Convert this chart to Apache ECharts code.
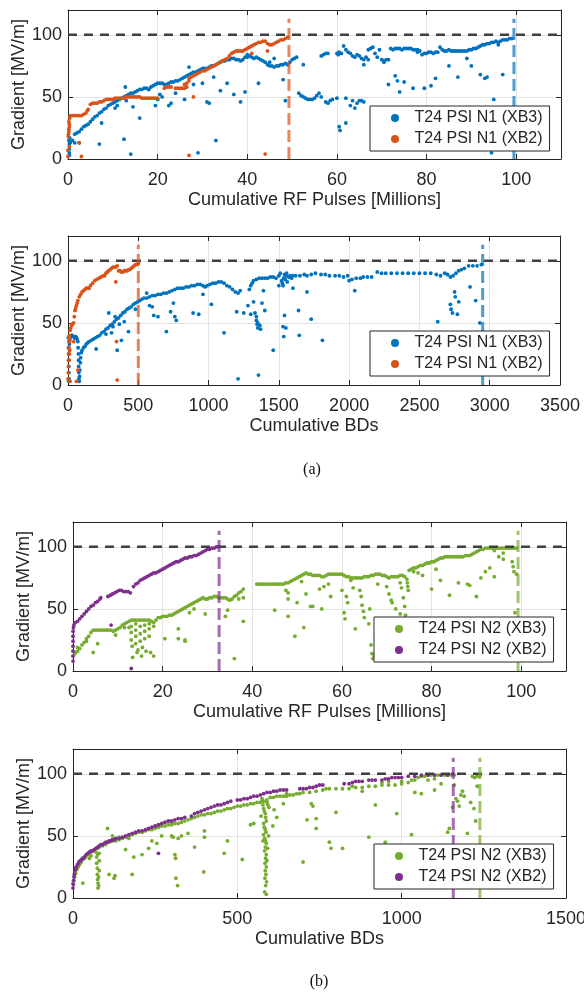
<!DOCTYPE html>
<html>
<head>
<meta charset="utf-8">
<script src="https://cdn.jsdelivr.net/npm/echarts@6/dist/echarts.min.js"></script>
<style>
  body { margin: 0; background: #fff; }
  #chart { width: 584px; height: 993px; }
</style>
</head>
<body>
<div id="chart"></div>
<script>
// ---- data ----
const targetGradient = 100;

// (a) top: gradient vs cumulative RF pulses [millions], structure N1
const n1Xb3Pulses = [
  [0.3,3],[0.3,5],[0.3,8],[0.3,12],[0.2,15],[0.4,17],[1,15],[1.5,20],[2,21],[2.5,22],[3,24],[3.5,26],[4,27],[4.5,28],[5,30],[5.5,32],
  [6,34],[6.5,35],[7,37],[7.5,38],[8,40],[8.5,41],[9,43],[9.5,44],[10,45],[10.5,46],[11,47],[11.5,48],[12,49],[12.5,50],
  [13,51],[13.5,52],[14,53],[14.5,53],[15,54],[15.5,55],[16,56],[16.5,56],[17,57],[17.5,57],[18,56],[18.5,58],[19,59],
  [19.5,60],[20,61],[20.5,61],[21,61],[21.5,60],[22,60],[22.5,61],[23,62],[23.5,62],[24,63],[24.5,63],[25,64],[25.5,65],[26,66],
  [26.5,67],[27,68],[27.5,69],[28,70],[28.5,70],[29,71],[29.5,72],[30,73],[30.5,73],[31,73],[31.5,74],[32,75],[32.5,75],
  [33,76],[33.5,77],[34,78],[34.5,79],[35,79],[35.5,80],[36,80],[36.5,81],[37,81],[37.5,80],[38,80],[38.5,79],[39,80],
  [39.5,82],[40,82],[40.5,83],[41,82],[41.5,81],[42,82],[42.5,81],[43,80],[43.5,79],[44,78],[44.5,76],[45,75],[45.5,75],
  [46,74],[46.5,75],[47,75],[47.5,76],[48,76],[48.5,77],[49,76],[49.5,78],[50,80],[50.5,81],[51,82],
  [51.5,53],[52,51],[52.5,50],[53,49],[53.5,48],[54,48],[54.5,48],[55,49],[55.5,51],[56,53],[56.5,50],
  [56.5,83],[57,84],[57.5,85],[58,85],[57.5,46],[58,45],[58.5,47],[59,48],[60,49],[60.5,26],[60.7,23],[62,29],
  [60,85],[60.3,84],[60.5,86],[61,85],[61.5,91],[62,88],[62.5,86],[63,85],[63.5,83],[64,82],
  [63,43],[63.5,47],[64,41],[64.5,45],[65,47],[65.5,47],[66,46],
  [64.5,84],[65,83],[65.5,81],[66,80],[66.5,82],[67,88],[67.5,89],[68,90],[68.5,85],[69,82],[69.5,88],[70,80],[70.5,79],
  [71,80],[71.5,80],[72,89],[72.5,88],[73,89],[73.5,89],[74,89],[74.5,88],[75,89],[75.5,89],[76,89],[76.5,89],[77,88],
  [77.5,88],[78,88],[78.5,87],[79,84],[79.5,85],[80,85],[80.5,86],[81,86],[81.5,85],[82,86],[82.5,86],[83,90],[83.5,88],
  [84,87],[84.5,87],[85,88],[85.5,87],[86,87],[86.5,87],[87,87],[87.5,87],[88,87],[88.5,87],[89,87],[89.5,88],[90,88],
  [90.5,89],[91,89],[91.5,90],[92,91],[92.5,92],[93,92],[93.5,93],[94,93],[94.5,94],[95,94],[95.5,95],[96,94],[96.5,95],
  [97,96],[97.5,96],[98,96],[98.5,97],[99,97],
  [0.5,13],[1.5,13],[2.5,13],[7,12],[7.5,29],[10.5,41],[11,43],[12.5,16],[12.8,58],[13,47],[14,4],[14.5,42],[16,33],
  [18,56],[19.5,43],[20,48],[20.5,52],[21,50],[22.5,43],[23,45],[24,53],[26,48],[27,74],[28,60],[29,5],[30,61],[31,46],
  [31.5,45],[32.5,66],[33,15],[34,55],[35.5,61],[37,52],[38.5,46],[39.5,54],[40,84],[42.5,61],[45,78],[46,81],[48,64],
  [48.5,47],[52.5,76],[62,49],[66,76],[67,80],[70.5,78],[71.5,60],[73,67],[73.5,63],[74,54],[75,62],[77,57],[78,86],
  [79.5,57],[81,59],[82,65],[85,75],[87,66],[89,81],[90,75],[92,68],[93,65],[93.5,66],[94.5,5],[95,48],[96,92],[97,68]
];
const n1Xb2Pulses = [
  [0,2],[0,7],[0.3,10],[0.1,18],[0.1,20],[0.2,22],[0.2,24],[0.3,26],[0.3,28],[0.2,30],[0.4,33],
  [0.5,35],[1,35],[1.5,35],[2,35],[2.5,35],[3,35],[3.5,36],[4,37],[4.3,39],[4.5,40],
  [5,44],[5.5,45],[6,45],[6.5,45],[7,46],[7.5,46],[8,47],[8.5,48],[9,48],[9.5,48],[10,48],[10.5,49],[11,49],[11.5,49],
  [12,49],[12.5,49],[13,50],[13.5,50],[14,50],[14.5,50],[15,50],[15.5,50],[16,50],[16.5,49],[17,49],[17.5,49],[18,49],
  [18.5,49],[19,49],[19.5,49],[20,49],
  [21.5,57],[22,58],[22.5,58],[23,58],[24,57],[24.5,57],[25,57],[25.5,57],[26,57],[26.5,58],[26,60],[26.5,61],
  [27,63],[27,65],[27.5,66],[28,67],[28.5,68],[29,69],[29.5,70],[30,71],[30.5,71],[31,72],[31.5,73],[32,74],[32.5,75],
  [33,76],[33.5,77],[34,78],[34.5,79],[35,80],[35.5,81],[36,83],[36.5,85],[37,86],[37.5,87],[38,87],[38.5,87],[39,87],
  [39.5,88],[40,89],[40.5,90],[41,91],[41.5,92],[42,93],[42.5,94],[43,94],[43.5,95],[44,95],[44.5,93],[45,92],[45.5,92],
  [46,93],[46.5,94],[47,95],[47.5,96],[48,96],[48.5,97],[49,98],
  [2.5,13],[3,2],[27,3],[28,50],[41,85],[44,4],[44.5,87]
];
const n1EndPulses = [99.5, 49.3];   // XB3, XB2

// (a) bottom: gradient vs cumulative BDs, structure N1
const n1Xb3Bds = [
  [2,38],[3,30],[4,25],[5,20],[6,15],[7,10],[8,5],[5,3],[10,33],[12,36],[15,38],[20,39],[25,40],[30,40],[40,39],[45,38],
  [50,38],[55,39],[60,38],[65,37],[70,35],[72,30],[74,25],[75,20],[76,15],[77,10],[78,5],[80,3],[82,7],[85,12],[88,18],
  [90,22],[95,26],[100,28],[110,30],[120,31],[130,33],[140,34],[150,35],[165,36],[180,37],[195,38],[210,39],[225,40],
  [240,42],[255,43],[270,45],[285,46],[300,48],[315,49],[330,51],[345,53],[360,54],[375,56],[390,58],[405,59],[420,61],
  [435,62],[450,63],[465,65],[480,66],[495,67],[510,68],[525,69],[540,70],[560,70],[580,71],[600,72],[620,72],[640,73],
  [660,73],[680,74],[700,74],[720,75],[740,76],[760,77],[780,78],[800,78],[820,78],[840,79],[860,79],[880,80],[900,80],
  [920,81],[940,81],[960,80],[975,79],[990,80],[1010,81],[1030,82],[1050,82],[1070,83],[1090,83],[1110,82],[1130,80],
  [1150,79],[1170,77],[1190,75],[1210,74],[1225,76],
  [1290,77],[1300,80],[1310,82],[1320,84],[1340,85],[1360,86],[1380,86],[1400,86],[1420,86],[1440,87],[1460,87],
  [1480,86],[1500,88],[1510,90],[1520,84],[1525,82],[1530,80],[1535,86],[1540,89],[1545,85],[1550,88],[1555,90],
  [1560,83],[1570,87],[1580,88],[1590,86],[1600,88],[1620,88],[1650,88],[1680,89],[1700,88],[1730,89],[1760,90],
  [1800,89],[1830,89],[1860,88],[1900,88],[1930,88],[1960,87],[1990,88],[2000,84],[2020,85],[2050,86],[2080,86],
  [2100,87],[2130,87],[2160,87],[2200,91],[2230,90],[2260,90],[2300,90],[2340,90],[2380,90],[2420,90],[2460,90],
  [2500,90],[2540,90],[2580,90],[2620,89],[2650,88],[2680,90],[2700,89],[2720,87],[2740,88],[2760,90],[2780,92],
  [2800,93],[2820,94],[2850,96],[2880,96],[2910,96],[2940,97],
  [200,29],[270,41],[290,58],[310,42],[320,47],[335,55],[350,28],[365,49],[380,36],[400,51],[430,43],[480,61],[560,74],
  [580,64],[600,63],[610,56],[640,55],[700,43],[730,59],[750,66],[770,52],[760,55],[890,58],[930,57],[960,73],[1020,65],
  [1110,42],[1200,59],[1210,5],[1250,58],[1280,64],[1300,57],[1320,67],[1330,58],[1340,55],[1340,52],[1345,49],
  [1350,46],[1350,50],[1355,8],[1365,48],[1370,45],[1380,66],[1390,76],[1400,60],[1460,28],[1500,80],[1530,47],
  [1535,39],[1540,56],[1550,46],[1600,78],[1640,60],[1645,40],[1700,75],[1730,53],[1810,36],[2040,76],[2630,51],
  [2720,65],[2725,61],[2735,58],[2750,75],[2755,71],[2770,57],[2780,67],[2860,79],[2900,68],[2930,50]
];
const n1Xb2Bds = [
  [0,5],[2,10],[3,15],[4,20],[5,25],[6,30],[7,35],[8,38],[8,20],[10,25],[12,28],[5,30],[8,35],[10,38],
  [10,40],[15,44],[20,46],[25,48],[30,49],[40,50],[45,55],[50,60],[55,62],[60,64],[65,66],[70,68],[80,71],[90,73],
  [100,75],[110,76],[120,77],[130,78],[140,78],[150,78],[160,80],[175,82],[190,84],[205,85],[220,86],[235,87],[250,88],
  [260,88],[270,90],[280,91],[290,92],[300,93],[310,94],[320,95],[330,95],[340,95],[350,96],[360,92],[370,92],[380,91],
  [390,91],[400,92],[410,92],[420,92],[430,93],[440,93],[450,94],[460,95],[470,96],[480,97],[490,97],[500,98],
  [15,3],[40,35],[60,3],[70,12],[340,83],[345,35],[350,4]
];
const n1EndBds = [2950, 500];

// (b) top: gradient vs cumulative RF pulses [millions], structure N2
const n2Xb3Pulses = [
  [0,12],[0.5,14],[1,16],[1.5,18],[2,21],[2.5,23],[3,26],[3.5,28],[4,31],[4.5,33],[5,33],[5.5,33],[6,33],[6.5,33],[7,33],
  [7.5,33],[8,33],[8.5,33],[9,32],[9.5,33],[10,34],[10.5,35],[11,37],[11.5,38],[12,39],[12.5,40],[13,41],[13.5,41],[14,41],
  [14.5,41],[15,41],[15.5,41],[16,41],[16.5,41],[17,41],[17.5,40],[18,39],[18.5,41],[19,43],[19.5,43],[20,44],[20.5,44],
  [21,44],[21.5,45],[22,45],[22.5,46],[23,47],[23.5,48],[24,49],[24.5,50],[25,51],[25.5,52],[26,53],[26.5,54],[27,55],
  [27.5,56],[28,57],[28.5,58],[29,59],[29.5,58],[30,58],[30.5,59],[31,59],[31.5,60],[32,60],[32.5,59],[33,59],[33.5,59],
  [34,59],[34.5,58],[35,57],[35.5,58],[36,60],[36.5,61],[37,63],[37.5,64],[38,66],
  [13,36],[13,31],[13,25],[13.2,20],[13.3,11],[14,38],[14,33],[14,28],[14,22],[14.3,15],[14.5,17],[15,36],[15,30],[15,24],
  [15.3,12],[15.5,19],[16,37],[16,32],[16,26],[16.3,16],[17,38],[17,34],[17,28],[17.3,15],[18,12],[18,36],[12.5,35],[11.5,35],
  [4.5,15],[5.5,22],[9.5,29],[20.5,26],[23.5,26],[23.5,34],[25,24],[25,25],[26,47],[27,50],[29.5,46],[34,44],[34.5,49],
  [36,10],[37,58],[38,40],[38,59],[0.5,15],[1,19],[3,24],
  [41,70],[41.5,70],[42,70],[42.5,70],[43,70],[43.5,70],[44,70],[44.5,70],[45,70],[45.5,70],[46,70],[46.5,70],[47,70],
  [47.5,71],[48,71],[48.5,72],[49,73],[49.5,74],[50,75],[50.5,76],[51,77],[51.5,78],[52,79],[52.5,78],[53,78],[53.5,77],
  [54,77],[54.5,77],[55,77],[55.5,76],[56,76],[56.5,77],[57,78],[57.5,78],[58,78],[58.5,78],[59,78],[59.5,78],[60,78],
  [60.5,77],[61,76],[61.5,76],[62,75],[62.5,75],[63,75],[63.5,75],[64,75],[64.5,75],[65,76],[65.5,76],[66,76],[66.5,77],
  [67,77],[67.5,78],[68,78],[68.5,78],[69,77],[69.5,77],[70,76],[70.5,75],[71,76],[71.5,76],[72,76],[72.5,76],[73,77],
  [73.5,77],[74,76],[74.5,74],[74.6,71],[74.7,68],[74.8,65],[75,81],[75.5,82],[76,83],[76.5,83],[77,84],[77.5,85],[78,85],
  [78.5,86],[79,87],[79.5,87],[80,88],[80.5,88],[81,89],[81.5,90],[82,91],[82.5,91],[83,92],[83.5,92],[84,92],[84.5,92],
  [85,92],[85.5,92],[86,92],[86.5,92],[87,92],[87.5,93],[88,93],[88.5,93],[89,94],[89.5,95],[90,96],[90.5,97],[91,98],
  [91.5,98],[92,99],[92.5,99],[93,99],[93.5,99],[94,99],[94.5,99],[95,99],[95.5,99],[96,99],[96.5,99],[97,99],[97.5,99],
  [98,99],[98.5,99],[99,99],
  [45,49],[47.5,65],[48,63],[48,58],[48,44],[49.5,28],[50,55],[51,72],[51.5,35],[52,62],[53,52],[53.5,52],[55,66],[55.5,50],
  [56,68],[57,70],[57.5,60],[60,65],[60.5,47],[60.7,42],[61,60],[61.3,55],[62,73],[62.5,67],[63,34],[64,65],[64.3,60],
  [64.5,53],[64.8,48],[65,43],[66,38],[66.2,50],[66.5,21],[66.7,14],[66.9,10],[67.2,12],[68,70],[70,68],[70.5,62],[71,57],
  [71.2,55],[72,50],[73,46],[73,71],[73.3,67],[73.7,59],[74,52],[74.2,45],[74.4,39],[75.5,42],[76,80],[77,79],[78,77],
  [80,66],[81,82],[82,73],[84,61],[86,71],[88,70],[88.5,69],[90,60],[91,75],[92,80],[93,83],[94,76],[95,92],[96,90],
  [98,88],[98.2,84],[98.4,80],[98.6,47],[99,78],[96,95],[94,97]
];
const n2Xb2Pulses = [
  [0,8],[0,12],[0,16],[0,20],[0,24],[0,28],[0,32],[0.1,35],[0.2,37],[0.5,39],[1,40],[1.5,42],[2,44],[2.5,46],[3,48],
  [3.5,50],[4,52],[4.5,53],[5,55],[5.5,56],[6,58],[6.2,59],
  [7.8,60],[8.3,61],[8.8,62],[9.3,63],[9.8,64],[10.3,65],[10.8,65],[11.3,64],[11.8,64],[12.3,64],[12.8,63],[13.5,68],
  [14,70],[14.5,71],[15,73],[15.5,74],[16,75],[16.5,76],[17,77],[17.5,78],[18,79],[18.5,79],[19,80],[19.5,81],[20,82],
  [20.5,83],[21,84],[21.5,85],[22,86],[22.5,87],[23,88],[23.5,88],[24,89],[24.5,90],[25,91],[25.5,91],[26,92],[26.5,92],
  [27,93],[27.5,93],[28,94],[28.5,95],[29,96],[29.5,97],[30,98],[30.5,98],[31,99],[31.5,99],[32,100],[32.5,100],
  [8.5,37],[13,2]
];
const n2EndPulses = [99.3, 32.6];

// (b) bottom: gradient vs cumulative BDs, structure N2
const n2Xb3Bds = [
  [0,12],[2,14],[5,17],[8,20],[12,23],[16,25],[20,27],[25,29],[30,31],[35,32],[40,34],[45,35],[50,36],[55,37],[60,38],
  [65,39],[70,40],[75,40],[80,41],[90,42],[100,43],[110,45],[120,46],[130,46],[140,47],[150,48],[160,49],[170,50],
  [180,51],[190,52],[200,53],[210,53],[220,54],[230,55],[240,55],[250,56],[260,57],[270,58],[280,58],[290,59],[300,59],
  [310,60],[320,60],[330,61],[340,62],[350,63],[360,64],[370,65],[380,66],[390,67],[400,67],[410,68],[420,68],[430,69],
  [440,70],[450,70],[460,71],[470,72],[480,72],[490,73],[500,74],[510,74],[520,75],[530,75],[540,76],[550,76],[560,77],
  [570,77],[580,78],[590,79],[600,81],[610,81],[620,82],[630,82],[640,82],[650,82],[660,83],[670,83],[680,84],[690,84],
  [700,85],[720,85],[740,86],[760,87],[780,88],[800,88],[820,88],[840,88],[860,89],[880,89],[900,90],[920,90],[940,91],
  [960,91],[980,91],[1000,92],[1020,93],[1040,95],[1050,97],[1060,98],[1070,98],[1080,99],[1090,99],[1100,99],[1110,99],
  [1120,99],[1130,99],[1140,99],[1150,99],[1160,99],[1215,98],[1222,97],[1228,98],[1235,98],[1240,99],
  [70,37],[72,33],[72,28],[74,24],[74,19],[75,15],[76,12],[76,8],[78,10],[78,17],[80,22],[80,30],[75,35],[80,36],
  [575,78],[578,75],[580,72],[582,70],[585,68],[586,65],[588,62],[580,60],[582,57],[585,55],[587,53],[580,51],[583,48],
  [586,46],[588,44],[585,41],[583,38],[588,35],[586,32],[584,28],[588,25],[585,22],[587,19],[584,16],[589,13],[586,10],
  [583,5],[588,3],[590,30],[592,40],[595,50],[578,46],[593,75],[596,73],[572,66],[575,80],[590,77],
  [30,12],[35,33],[50,32],[55,34],[105,56],[110,19],[125,16],[128,18],[140,49],[160,39],[170,48],[180,19],[185,33],
  [210,35],[230,40],[240,46],[255,44],[270,50],[300,50],[305,49],[310,35],[312,32],[313,16],[318,10],[320,48],[330,50],
  [350,52],[370,41],[400,54],[400,49],[398,21],[460,36],[470,46],[515,31],[540,59],[550,60],[608,58],[612,71],[620,65],
  [640,76],[700,29],[712,63],[725,76],[730,74],[740,56],[740,64],[780,45],[785,40],[800,69],[820,40],[900,49],[920,75],
  [950,45],[985,68],[1030,51],[1040,85],[1060,84],[1100,87],[1140,53],[1145,56],[1160,91],[1165,80],[1170,78],[1175,74],
  [1180,83],[1200,52],[1210,77],[1220,72],[1225,62],[1230,90],[1155,73],[1185,86],[1190,82],[1120,92],[1100,96],[1080,95],
  [1030,95],[1000,94],[880,86],[770,88],[850,90],[940,93],[960,94],[650,84],[300,61],[250,58],[120,50]
];
const n2Xb2Bds = [
  [0,8],[1,11],[2,14],[3,17],[4,19],[6,22],[8,24],[10,25],[14,27],[18,29],[22,30],[26,31],[30,32],[35,33],[40,35],
  [45,36],[50,37],[55,38],[60,38],[65,39],[70,40],[75,41],[80,42],[85,43],[90,43],[95,44],[100,45],[105,45],[110,46],
  [115,46],[120,47],[125,47],[130,48],[140,48],[150,49],[160,50],[170,51],[180,52],[190,53],[200,54],[210,54],[220,55],
  [230,56],[240,57],[250,58],[260,59],[270,60],[280,61],[290,62],[300,62],[310,63],[320,64],[330,64],[340,65],[360,66],
  [370,68],[380,69],[390,70],[400,71],[410,72],[420,73],[430,74],[440,75],[450,75],[460,76],[470,77],[480,78],[500,79],
  [510,79],[520,80],[530,80],[540,81],[550,82],[560,82],[570,83],[580,84],[590,85],[600,85],[610,86],[620,86],[630,87],
  [640,87],[650,87],[690,88],[700,88],[710,88],[720,89],[730,89],[740,90],[750,91],[760,91],[825,92],[840,92],[850,93],
  [860,94],[870,94],[880,94],[900,95],[910,95],[920,95],[940,95],[950,96],[960,96],[970,97],[980,97],[990,97],[1000,97],
  [1020,98],[1040,98],[1060,99],[1080,99],[1100,99],[1120,99],[1140,99],[1155,100],
  [260,36]
];
const n2EndBds = [1238, 1157];

// ---- layout / style ----
const FONT = 'Liberation Sans';
const INK = '#262626';
const BLUE = '#0072BD', ORANGE = '#D95319', GREEN = '#77AC30', PURPLE = '#7E2F8E';

const panels = [
  {rect: {left: 68, top: 10, width: 493, height: 149}, xmax: 110, xint: 20, xname: 'Cumulative RF Pulses [Millions]',
   names: ['T24 PSI N1 (XB3)', 'T24 PSI N1 (XB2)'], colors: [BLUE, ORANGE], data: [n1Xb3Pulses, n1Xb2Pulses],
   ends: n1EndPulses, legend: {left: 370, top: 106}},
  {rect: {left: 68, top: 236, width: 492, height: 149}, xmax: 3500, xint: 500, xname: 'Cumulative BDs',
   names: ['T24 PSI N1 (XB3)', 'T24 PSI N1 (XB2)'], colors: [BLUE, ORANGE], data: [n1Xb3Bds, n1Xb2Bds],
   ends: n1EndBds, legend: {left: 370, top: 331}},
  {rect: {left: 73, top: 522, width: 493, height: 149}, xmax: 110, xint: 20, xname: 'Cumulative RF Pulses [Millions]',
   names: ['T24 PSI N2 (XB3)', 'T24 PSI N2 (XB2)'], colors: [GREEN, PURPLE], data: [n2Xb3Pulses, n2Xb2Pulses],
   ends: n2EndPulses, legend: {left: 374, top: 617}},
  {rect: {left: 73, top: 749, width: 493, height: 149}, xmax: 1500, xint: 500, xname: 'Cumulative BDs',
   names: ['T24 PSI N2 (XB3)', 'T24 PSI N2 (XB2)'], colors: [GREEN, PURPLE], data: [n2Xb3Bds, n2Xb2Bds],
   ends: n2EndBds, legend: {left: 374, top: 844}}
];

const plain = function (v) { return String(v); };
const grid = [], xAxis = [], yAxis = [], series = [], legend = [];

panels.forEach(function (p, i) {
  grid.push(Object.assign({outerBoundsMode: 'none', containLabel: false}, p.rect));
  const labelsAtMax = p.xmax % p.xint === 0;
  // bottom x axis
  xAxis.push({
    gridIndex: i, type: 'value', min: 0, max: p.xmax, interval: p.xint, position: 'bottom',
    name: p.xname, nameLocation: 'middle', nameGap: 32, nameMoveOverlap: false,
    nameTextStyle: {fontSize: 18, color: INK, fontFamily: FONT},
    axisLine: {onZero: false, lineStyle: {color: INK, width: 1}},
    axisTick: {inside: true, length: 5, lineStyle: {color: INK}},
    axisLabel: {fontSize: 18, color: INK, fontFamily: FONT, margin: 12, formatter: plain,
      showMaxLabel: labelsAtMax, showMinLabel: true},
    splitLine: {show: true, lineStyle: {color: '#e3e3e3', width: 1}}
  });
  // top x axis (box + mirrored ticks)
  xAxis.push({
    gridIndex: i, type: 'value', min: 0, max: p.xmax, interval: p.xint, position: 'top',
    axisLine: {onZero: false, lineStyle: {color: INK, width: 1}},
    axisTick: {inside: true, length: 5, lineStyle: {color: INK}},
    axisLabel: {show: false}, splitLine: {show: false}
  });
  yAxis.push({
    gridIndex: i, type: 'value', min: 0, max: 120, interval: 50, position: 'left',
    name: 'Gradient [MV/m]', nameLocation: 'middle', nameGap: 40, nameMoveOverlap: false,
    nameTextStyle: {fontSize: 18, color: INK, fontFamily: FONT},
    axisLine: {onZero: false, lineStyle: {color: INK, width: 1}},
    axisTick: {inside: true, length: 5, lineStyle: {color: INK}},
    axisLabel: {fontSize: 18, color: INK, fontFamily: FONT, margin: 6, formatter: plain,
      showMaxLabel: false, showMinLabel: true},
    splitLine: {show: true, lineStyle: {color: '#e3e3e3', width: 1}}
  });
  yAxis.push({
    gridIndex: i, type: 'value', min: 0, max: 120, interval: 50, position: 'right',
    axisLine: {onZero: false, lineStyle: {color: INK, width: 1}},
    axisTick: {inside: true, length: 5, lineStyle: {color: INK}},
    axisLabel: {show: false}, splitLine: {show: false}
  });

  const xi = 2 * i, yi = 2 * i;
  for (let k = 0; k < 2; k++) {
    series.push({
      name: p.names[k], type: 'scatter', xAxisIndex: xi, yAxisIndex: yi,
      data: p.data[k], symbol: 'circle', symbolSize: 3.8,
      itemStyle: {color: p.colors[k], opacity: 1},
      emphasis: {disabled: true}, silent: true, z: 2 + k
    });
  }
  // target gradient line
  series.push({
    name: 'target-' + i, type: 'line', xAxisIndex: xi, yAxisIndex: yi,
    data: [[0, targetGradient], [p.xmax, targetGradient]], symbol: 'none', silent: true,
    lineStyle: {color: '#404040', width: 2.5, type: [9, 7]}, z: 5
  });
  // end-of-test markers
  for (let k = 0; k < 2; k++) {
    series.push({
      name: 'end-' + i + '-' + k, type: 'line', xAxisIndex: xi, yAxisIndex: yi,
      data: [[p.ends[k], 0], [p.ends[k], 113]], symbol: 'none', silent: true,
      lineStyle: {color: p.colors[k], opacity: 0.7, width: 3, type: [12, 5]}, z: 6
    });
  }
  legend.push({
    orient: 'vertical', left: p.legend.left, top: p.legend.top,
    data: p.names.map(function (n) { return {name: n, icon: 'circle'}; }),
    itemWidth: 29, itemHeight: 8, itemGap: 5, padding: [4, 7, 4, 21],
    backgroundColor: '#fff', borderColor: INK, borderWidth: 1, borderRadius: 0,
    textStyle: {fontSize: 16, color: INK, fontFamily: FONT, lineHeight: 16},
    selectedMode: false, z: 10
  });
});

const option = {
  animation: false,
  backgroundColor: '#fff',
  grid: grid, xAxis: xAxis, yAxis: yAxis, legend: legend, series: series,
  graphic: [
    {type: 'text', x: 312, y: 470, style: {text: '(a)', fontSize: 16, fontFamily: 'Liberation Serif', fill: '#111', textAlign: 'center', textVerticalAlign: 'middle'}},
    {type: 'text', x: 319, y: 982, style: {text: '(b)', fontSize: 16, fontFamily: 'Liberation Serif', fill: '#111', textAlign: 'center', textVerticalAlign: 'middle'}}
  ]
};

const myChart = echarts.init(document.getElementById('chart'));
myChart.setOption(option);
</script>
</body>
</html>
